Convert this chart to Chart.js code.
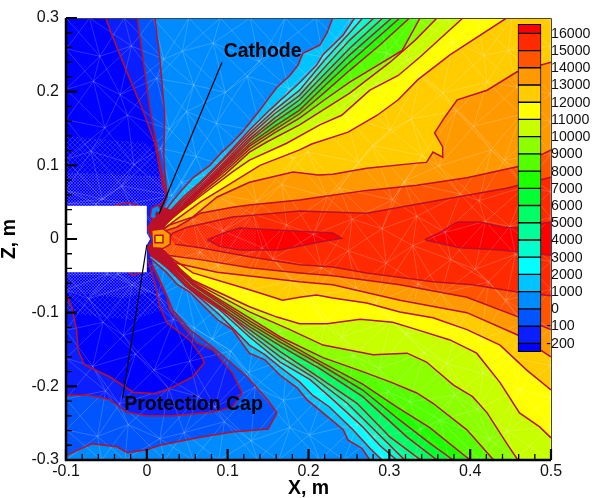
<!DOCTYPE html>
<html>
<head>
<meta charset="utf-8">
<style>
  html, body { margin: 0; padding: 0; background: #fff; }
  canvas { display: block; }
</style>
<script src="https://cdn.jsdelivr.net/npm/chart.js@4/dist/chart.umd.min.js"></script>
</head>
<body>
<canvas id="chart" width="592" height="498"></canvas>
<script>
// Colour bar, bottom to top
const barLabels = ['-200', '-100', '0', '1000', '2000', '3000', '4000', '5000', '6000', '7000', '8000', '9000', '10000', '11000', '12000', '13000', '14000', '15000', '16000'];
const bandColors = ['#0000ff', '#0a1eff', '#0055ff', '#008cff', '#00c4ff', '#00ffff', '#00ffcc', '#00ff99', '#00ff66', '#00ff33', '#1eff00', '#55ff00', '#8cff00', '#c8ff00', '#ffff00', '#ffcc00', '#ff9900', '#ff5500', '#ff2a00', '#ff0000'];

// Contours as [x, z]. up* run from the nozzle to the top/right edge
const up1000 = [[.014,.023],[.028,.046],[.043,.066],[.057,.083],[.078,.100],[.093,.118],[.105,.130],[.118,.145],[.140,.175],[.152,.193],[.161,.206],[.177,.222],[.187,.236],[.193,.252],[.214,.263],[.223,.280],[.230,.300]];
const up2000 = [[.016,.023],[.045,.057],[.066,.077],[.093,.107],[.127,.148],[.152,.175],[.189,.212],[.210,.236],[.218,.250],[.243,.277],[.257,.300]];
const up3000 = [[.016,.022],[.045,.054],[.066,.075],[.097,.110],[.127,.144],[.158,.175],[.189,.202],[.220,.243],[.251,.280],[.267,.300]];
const up4000 = [[.016,.020],[.045,.052],[.066,.072],[.097,.106],[.127,.140],[.158,.170],[.189,.195],[.220,.233],[.251,.270],[.281,.300]];
const up5000 = [[.016,.020],[.045,.049],[.066,.069],[.097,.103],[.127,.136],[.158,.164],[.189,.189],[.220,.224],[.251,.259],[.292,.300]];
const up6000 = [[.016,.019],[.045,.046],[.066,.068],[.097,.100],[.127,.133],[.158,.159],[.189,.182],[.220,.216],[.251,.250],[.303,.300]];
const up7000 = [[.016,.019],[.045,.045],[.066,.066],[.097,.098],[.127,.129],[.158,.153],[.189,.175],[.220,.208],[.251,.240],[.313,.300]];
const up8000 = [[.017,.018],[.045,.043],[.066,.065],[.097,.095],[.127,.126],[.158,.148],[.189,.170],[.220,.199],[.251,.229],[.288,.263],[.325,.300]];
const up9000 = [[.017,.018],[.045,.042],[.066,.064],[.097,.092],[.127,.122],[.158,.144],[.189,.164],[.220,.189],[.251,.213],[.316,.256],[.338,.300]];
const up10000 = [[.019,.016],[.045,.041],[.066,.061],[.097,.088],[.127,.118],[.149,.132],[.189,.155],[.251,.198],[.301,.240],[.332,.270],[.359,.300]];
const up11000 = [[.020,.016],[.028,.026],[.066,.058],[.106,.091],[.127,.107],[.173,.130],[.214,.155],[.241,.168],[.276,.202],[.311,.222],[.338,.247],[.391,.300]];
const up12000 = [[.022,.014],[.032,.023],[.066,.050],[.106,.077],[.140,.100],[.189,.121],[.204,.129],[.249,.145],[.285,.168],[.311,.189],[.335,.216],[.375,.250],[.445,.300]];
const up13000 = [[.012,.009],[.028,.019],[.057,.030],[.087,.057],[.127,.077],[.181,.091],[.212,.087],[.230,.088],[.272,.096],[.334,.103],[.346,.104],[.354,.118],[.366,.111],[.366,.125],[.356,.144],[.369,.166],[.384,.189],[.421,.202],[.458,.227],[.500,.240]];
const up14000 = [[.016,.009],[.037,.016],[.066,.035],[.106,.043],[.127,.046],[.189,.053],[.214,.057],[.272,.066],[.334,.073],[.396,.083],[.458,.098],[.500,.121]];
const up15000 = [[.028,.001],[.032,.008],[.050,.016],[.106,.030],[.189,.038],[.272,.035],[.313,.043],[.384,.057],[.445,.069],[.500,.084]];

// low* run from the nozzle to the bottom/right edge
const low1000 = [[.004,-.026],[.025,-.046],[.038,-.062],[.053,-.072],[.075,-.096],[.088,-.110],[.106,-.123],[.115,-.137],[.127,-.155],[.146,-.164],[.165,-.185],[.186,-.202],[.198,-.218],[.218,-.236],[.243,-.259],[.249,-.273],[.266,-.284],[.276,-.300]];
const low2000 = [[.006,-.019],[.046,-.061],[.090,-.103],[.127,-.144],[.146,-.157],[.165,-.174],[.189,-.194],[.205,-.212],[.226,-.228],[.255,-.259],[.276,-.284],[.291,-.300]];
const low3000 = [[.007,-.018],[.048,-.064],[.090,-.096],[.127,-.133],[.165,-.167],[.202,-.191],[.226,-.214],[.267,-.255],[.288,-.280],[.309,-.300]];
const low4000 = [[.009,-.016],[.051,-.066],[.090,-.092],[.127,-.128],[.165,-.160],[.205,-.187],[.248,-.223],[.285,-.263],[.319,-.300]];
const low5000 = [[.009,-.015],[.053,-.065],[.127,-.123],[.165,-.153],[.205,-.182],[.260,-.223],[.301,-.269],[.339,-.300]];
const low6000 = [[.010,-.015],[.054,-.064],[.127,-.119],[.165,-.145],[.214,-.176],[.267,-.214],[.322,-.269],[.359,-.300]];
const low7000 = [[.010,-.014],[.056,-.062],[.127,-.115],[.165,-.140],[.214,-.170],[.267,-.205],[.313,-.246],[.350,-.277],[.379,-.300]];
const low8000 = [[.011,-.014],[.057,-.061],[.127,-.111],[.165,-.136],[.214,-.166],[.267,-.197],[.309,-.228],[.350,-.256],[.400,-.300]];
const low9000 = [[.012,-.014],[.057,-.060],[.127,-.107],[.165,-.133],[.218,-.161],[.267,-.180],[.301,-.194],[.334,-.209],[.354,-.223],[.396,-.259],[.429,-.300]];
const low10000 = [[.012,-.014],[.057,-.058],[.127,-.099],[.177,-.123],[.218,-.144],[.280,-.157],[.322,-.155],[.346,-.167],[.379,-.198],[.403,-.214],[.421,-.236],[.445,-.277],[.459,-.300]];
const low11000 = [[.014,-.014],[.057,-.056],[.127,-.092],[.161,-.106],[.189,-.115],[.223,-.115],[.264,-.109],[.304,-.113],[.334,-.123],[.375,-.137],[.408,-.155],[.437,-.195],[.461,-.236],[.486,-.255],[.500,-.270]];
const low12000 = [[.016,-.015],[.057,-.046],[.127,-.069],[.168,-.083],[.189,-.079],[.210,-.076],[.230,-.080],[.272,-.087],[.313,-.099],[.354,-.107],[.396,-.123],[.437,-.144],[.470,-.178],[.500,-.205]];
const low13000 = [[.019,-.018],[.028,-.031],[.087,-.045],[.189,-.058],[.230,-.062],[.313,-.083],[.396,-.100],[.458,-.130],[.500,-.160]];
const low14000 = [[.025,-.022],[.066,-.028],[.127,-.039],[.189,-.046],[.230,-.050],[.313,-.062],[.396,-.079],[.453,-.103],[.500,-.123]];
const low15000 = [[.035,-.007],[.066,-.012],[.127,-.024],[.189,-.035],[.230,-.038],[.272,-.046],[.354,-.058],[.403,-.062],[.458,-.072],[.500,-.077]];

// Closed loops on the axis
const eye16000a = [[.075,-.001],[.097,.009],[.115,.015],[.165,.012],[.230,.008],[.241,.001],[.214,-.004],[.165,-.015],[.115,-.015],[.090,-.010],[.075,-.001]];
const eye16000b = [[.344,-.001],[.363,.009],[.384,.023],[.412,.023],[.441,.016],[.453,.015],[.500,.023],[.500,-.022],[.437,-.015],[.387,-.012],[.344,-.001]];

// Low side, left of the nozzle
const zeroTop = [[.010,.300],[.016,.247],[.022,.171],[.021,.111],[.025,.057],[.020,.046],[.014,.023],[.004,.005]];
const zeroLow = [[.006,-.033],[.020,-.065],[.032,-.096],[.053,-.123],[.082,-.147],[.124,-.187],[.149,-.218],[.161,-.236],[.150,-.258],[.106,-.262],[.066,-.269],[.016,-.280],[0,-.286],[-.024,-.290],[-.037,-.282],[-.068,-.278],[-.098,-.293],[-.100,-.294]];
const m100Top = [[-.012,.300],[-.005,.247],[.004,.175],[.014,.117],[.022,.071],[.025,.057],[.016,.033],[.006,.009]];
const m100Low = [[.007,-.038],[.025,-.079],[.028,-.096],[.062,-.141],[.082,-.151],[.106,-.182],[.118,-.209],[.106,-.228],[.082,-.235],[.032,-.240],[0,-.240],[-.025,-.235],[-.046,-.218],[-.071,-.212],[-.098,-.212],[-.100,-.212]];
const m200Top = [[-.051,.300],[-.042,.274],[-.027,.233],[-.005,.175],[.010,.130],[.020,.071],[.025,.057],[.016,.045]];
const m200Low = [[.001,-.028],[.010,-.060],[.016,-.092],[.025,-.114],[.053,-.137],[.068,-.160],[.071,-.168],[.057,-.187],[.032,-.201],[.012,-.210],[-.017,-.208],[-.046,-.187],[-.077,-.171],[-.085,-.151],[-.087,-.123],[-.093,-.092],[-.098,-.080],[-.100,-.076]];
const loopAboveBox = [[-.040,.045],[-.031,.048],[-.021,.049],[-.010,.045]];
const loopBelowBox = [[-.023,-.045],[-.017,-.049],[-.006,-.045]];

// Small loops right at the nozzle
const nozzleFanUp = [[0,.015],[.004,.023],[.022,.043],[.031,.039],[.036,.034],[.016,.009],[.004,.004]];
const nozzleFanLow = [[0,-.011],[.004,-.005],[.022,-.015],[.041,-.039],[.031,-.045],[.014,-.031],[.004,-.023]];
const nozzleOuter = [[.006,.012],[.020,.014],[.029,.007],[.029,-.007],[.020,-.013],[.007,-.012],[.006,.012]];
const nozzleInner = [[.010,.005],[.020,.005],[.020,-.005],[.010,-.005],[.010,.005]];
const capLoop = [[.004,.030],[.006,.042],[.014,.046],[.020,.035],[.012,.023],[.004,.030]];
const capSpot = [[.012,.037],[.017,.033],[.016,.028],[.011,.033],[.012,.037]];

const cathodeBox = [[-.1,.045],[0,.045],[0,.008],[.004,0],[0,-.008],[0,-.045],[-.1,-.045],[-.1,.045]];
const cathodeLeader = [[.093,.240],[.015,.034]];
const capLeader = [[-.030,-.216],[0,-.008]];

// Fine mesh shows up as stippled patches next to the cathode and along the axis
const fineUpperDense = [[-.1,.090],[-.04,.088],[.020,.085],[.027,.055],[.018,.045],[-.1,.045]];
const fineUpperSparse = [[-.1,.140],[-.05,.135],[0,.130],[.018,.100],[.020,.085],[-.04,.088],[-.1,.090]];
const fineLowerDense = [[-.1,-.045],[.006,-.045],[.014,-.070],[-.03,-.080],[-.1,-.072]];
const fineLowerSparse = [[-.1,-.072],[-.03,-.080],[.014,-.070],[.025,-.095],[-.02,-.110],[-.1,-.100]];
const fineAxis = [[.020,.020],[.100,.060],[.135,.020],[.135,-.020],[.100,-.060],[.020,-.020]];

// Triangulation nodes, one row of x and one row of z per mesh row
const meshX = [
  [-.100,-.071,-.028,.008,.052,.091,.128,.171,.209,.252,.288,.331,.372,.408,.452,.500],
  [-.100,-.058,-.019,.021,.044,.082,.139,.162,.218,.243,.297,.322,.379,.417,.447,.500],
  [-.100,-.066,-.033,.012,.058,.097,.124,.176,.204,.258,.284,.338,.366,.421,.458,.500],
  [-.100,-.052,-.024,.028,.049,.086,.141,.158,.213,.247,.301,.327,.383,.404,.463,.500],
  [-.100,-.069,-.016,.017,.061,.102,.119,.181,.199,.262,.279,.341,.361,.426,.442,.500],
  [-.100,-.055,-.031,.031,.043,.079,.136,.167,.223,.238,.304,.318,.388,.411,.468,.500],
  [-.100,-.063,-.021,.011,.056,.094,.131,.173,.206,.254,.291,.334,.369,.419,.449,.500],
  [-.100,-.049,-.036,.024,.066,.088,.143,.156,.216,.249,.296,.329,.376,.406,.456,.500],
  [-.100,-.072,-.018,.014,.047,.099,.122,.179,.202,.259,.283,.336,.364,.423,.444,.500],
  [-.100,-.054,-.029,.033,.059,.081,.138,.164,.221,.241,.302,.321,.386,.413,.466,.500],
  [-.100,-.067,-.014,.009,.053,.104,.126,.174,.207,.256,.287,.343,.371,.416,.451,.500],
  [-.100,-.051,-.034,.027,.064,.084,.134,.169,.219,.246,.299,.325,.381,.409,.461,.500],
  [-.100,-.061,-.023,.016,.046,.096,.129,.177,.201,.261,.281,.339,.363,.424,.446,.500],
  [-.100,-.056,-.027,.022,.057,.089,.137,.163,.214,.244,.294,.331,.374,.412,.455,.500]
];
const meshZ = [
  [.300,.300,.300,.300,.300,.300,.300,.300,.300,.300,.300,.300,.300,.300,.300,.300],
  [.258,.248,.262,.244,.255,.266,.241,.259,.247,.263,.252,.243,.268,.249,.256,.262],
  [.203,.214,.196,.218,.209,.199,.221,.204,.216,.193,.211,.222,.198,.213,.206,.197],
  [.162,.151,.168,.149,.173,.157,.146,.171,.155,.166,.148,.163,.174,.153,.169,.159],
  [.108,.119,.101,.123,.112,.097,.126,.109,.118,.104,.127,.113,.099,.121,.107,.116],
  [.066,.054,.072,.059,.077,.063,.051,.074,.057,.069,.053,.078,.061,.052,.071,.064],
  [.048,.048,.048,.018,.028,.011,.034,.019,.006,.027,.014,.031,.009,.024,.017,.029],
  [-.048,-.048,-.048,-.031,-.018,-.036,-.012,-.027,-.039,-.016,-.033,-.009,-.028,-.041,-.021,-.031],
  [-.069,-.081,-.062,-.077,-.059,-.084,-.071,-.056,-.079,-.066,-.087,-.061,-.074,-.058,-.083,-.068],
  [-.124,-.113,-.131,-.109,-.121,-.136,-.107,-.126,-.116,-.133,-.111,-.129,-.119,-.137,-.114,-.122],
  [-.162,-.173,-.156,-.178,-.166,-.152,-.181,-.163,-.171,-.158,-.176,-.154,-.169,-.183,-.161,-.172],
  [-.217,-.206,-.224,-.203,-.214,-.228,-.201,-.219,-.209,-.226,-.207,-.221,-.212,-.231,-.204,-.216],
  [-.259,-.268,-.252,-.271,-.263,-.248,-.274,-.256,-.266,-.251,-.269,-.258,-.246,-.272,-.261,-.254],
  [-.300,-.300,-.300,-.300,-.300,-.300,-.300,-.300,-.300,-.300,-.300,-.300,-.300,-.300,-.300,-.300]
];

const annotations = [
  { text: 'Cathode', x: .095, z: .254 },
  { text: 'Protection Cap', x: -.028, z: -.225 }
];

const wedges = [
  [up1000, low1000], [up2000, low2000], [up3000, low3000], [up4000, low4000],
  [up5000, low5000], [up6000, low6000], [up7000, low7000], [up8000, low8000],
  [up9000, low9000], [up10000, low10000], [up11000, low11000], [up12000, low12000],
  [up13000, low13000], [up14000, low14000], [up15000, low15000]
];

const FONT = '"Liberation Sans", Arial, sans-serif';
const LINE_RED = '#bc1028';

const toPoints = (pts) => pts.map(p => ({ x: p[0], y: p[1] }));

function fillSet(pts, color) {
  return { type: 'scatter', data: toPoints(pts), showLine: true, pointRadius: 0, borderWidth: 0, borderColor: color, backgroundColor: color, fill: 'shape', tension: 0 };
}
function lineSet(pts, color, width) {
  return { type: 'scatter', data: toPoints(pts), showLine: true, pointRadius: 0, borderWidth: width || 1.5, borderColor: color || LINE_RED, fill: false, tension: 0 };
}

// Small tile of crossed lines, used for the stippled fine mesh
function stipple(size, alpha) {
  const tile = document.createElement('canvas');
  tile.width = tile.height = size;
  const c = tile.getContext('2d');
  c.strokeStyle = 'rgba(255,255,255,' + alpha + ')';
  c.lineWidth = 1;
  c.beginPath();
  c.moveTo(0, 0); c.lineTo(size, size);
  c.moveTo(size, 0); c.lineTo(0, size);
  c.stroke();
  return c.createPattern(tile, 'repeat');
}

// Region above a level: out along the upper contour, round the corners, back along the lower one
function wedgeRegion(up, low) {
  const pts = up.slice();
  if (up[up.length - 1][1] === .3) pts.push([.5, .3]);
  if (low[low.length - 1][1] === -.3) pts.push([.5, -.3]);
  return pts.concat(low.slice().reverse());
}

function meshSegments() {
  const seg = [];
  const add = (a, b) => { seg.push([meshX[a[0]][a[1]], meshZ[a[0]][a[1]]], [meshX[b[0]][b[1]], meshZ[b[0]][b[1]]], [null, null]); };
  meshX.forEach((row, i) => {
    row.forEach((_, j) => {
      if (j + 1 < row.length) add([i, j], [i, j + 1]);
      if (i + 1 < meshX.length) {
        add([i, j], [i + 1, j]);
        if (j + 1 < row.length) {
          add([i, j], [i + 1, j + 1]);
          add([i, j + 1], [i + 1, j]);
        }
      }
    });
  });
  return seg;
}

// Bottom layer first, reversed below because Chart.js paints dataset 0 last
const layers = [];
layers.push(fillSet([[-.1, .3], [.5, .3], [.5, -.3], [-.1, -.3]], bandColors[3]));
layers.push(fillSet(zeroTop.concat(zeroLow, [[-.1, .3]]), bandColors[2]));
layers.push(fillSet(m100Top.concat(m100Low, [[-.1, .3]]), bandColors[1]));
layers.push(fillSet(m200Top.concat([[-.1, .045], [-.1, .3]]), bandColors[0]));
layers.push(fillSet(m200Low.concat([[-.1, -.04], [0, -.04]]), bandColors[0]));
wedges.forEach((w, i) => layers.push(fillSet(wedgeRegion(w[0], w[1]), bandColors[i + 4])));
layers.push(fillSet(eye16000a, bandColors[19]));
layers.push(fillSet(eye16000b, bandColors[19]));
layers.push(fillSet(capLoop, bandColors[3]));
layers.push(fillSet(capSpot, bandColors[1]));
layers.push(fillSet(fineUpperDense, stipple(3, .2)));
layers.push(fillSet(fineUpperSparse, stipple(5, .14)));
layers.push(fillSet(fineLowerDense, stipple(3, .2)));
layers.push(fillSet(fineLowerSparse, stipple(5, .14)));
layers.push(fillSet(fineAxis, stipple(3, .08)));
layers.push(lineSet(meshSegments(), 'rgba(255,255,255,0.18)', 1));
[zeroTop, zeroLow, m100Top, m100Low, m200Top, m200Low, loopAboveBox, loopBelowBox, eye16000a, eye16000b, capLoop, capSpot]
  .forEach(c => layers.push(lineSet(c)));
wedges.forEach(w => { layers.push(lineSet(w[0])); layers.push(lineSet(w[1])); });
layers.push(fillSet(nozzleFanUp, LINE_RED));
layers.push(fillSet(nozzleFanLow, LINE_RED));
layers.push(fillSet(nozzleOuter, bandColors[16]));
layers.push(fillSet(nozzleInner, bandColors[15]));
layers.push(lineSet(nozzleOuter));
layers.push(lineSet(nozzleInner));
layers.push(fillSet(cathodeBox, '#ffffff'));
layers.push(lineSet(cathodeLeader, '#000', 1.2));
layers.push(lineSet(capLeader, '#000', 1.2));
layers.push({
  type: 'bar',
  xAxisID: 'x',
  yAxisID: 'yBar',
  data: bandColors.map((_, i) => ({ x: .4734, y: [i === 0 ? -.49 : i - 1, i === 19 ? 18.52 : i] })),
  backgroundColor: bandColors,
  borderColor: '#000',
  borderWidth: 1,
  borderSkipped: false,
  barThickness: 23
});

// Frame, inward ticks, colour bar labels and the two callouts
const overlayPlugin = {
  id: 'overlay',
  afterDatasetsDraw(chart) {
    const { ctx, chartArea: a, scales } = chart;
    ctx.save();
    ctx.strokeStyle = '#444';
    ctx.lineWidth = 1;
    ctx.beginPath();
    ctx.moveTo(a.left, a.top + .5); ctx.lineTo(a.right + .5, a.top + .5); ctx.lineTo(a.right + .5, a.bottom);
    ctx.stroke();
    ctx.strokeStyle = '#000';
    for (let i = 0; i <= 30; i++) {
      const isMajor = i % 5 === 0;
      const len = isMajor ? 11 : 6;
      ctx.lineWidth = isMajor ? 2.2 : 1.3;
      const px = scales.x.getPixelForValue(-.1 + i * .02);
      const py = scales.y.getPixelForValue(-.3 + i * .02);
      ctx.beginPath();
      ctx.moveTo(px, a.bottom); ctx.lineTo(px, a.bottom - len);
      ctx.moveTo(a.left, py); ctx.lineTo(a.left + len, py);
      ctx.stroke();
    }
    ctx.lineWidth = 2.5;
    ctx.beginPath();
    ctx.moveTo(a.left, a.top); ctx.lineTo(a.left, a.bottom); ctx.lineTo(a.right, a.bottom);
    ctx.stroke();

    ctx.fillStyle = '#111';
    ctx.textBaseline = 'middle';
    ctx.font = '14.2px ' + FONT;
    barLabels.forEach((label, i) => {
      const y = scales.yBar.getPixelForValue(i) + .5;
      const shift = label[0] === '-' ? ctx.measureText('-').width : 0;
      ctx.fillText(label, a.right - shift, y);
    });
    ctx.fillStyle = '#000';
    ctx.font = 'bold 19.5px ' + FONT;
    annotations.forEach(n => ctx.fillText(n.text, scales.x.getPixelForValue(n.x), scales.y.getPixelForValue(n.z)));
    ctx.restore();
  }
};

const tickLabel = (v) => (Math.abs(v) < 1e-9 ? '0' : String(+v.toFixed(1)));

new Chart(document.getElementById('chart'), {
  type: 'scatter',
  data: { datasets: layers.reverse() },
  plugins: [overlayPlugin],
  options: {
    responsive: false,
    animation: false,
    events: [],
    layout: { padding: { top: 18, right: 41, left: 0, bottom: 0 } },
    plugins: { legend: { display: false }, tooltip: { enabled: false }, title: { display: false } },
    scales: {
      x: {
        type: 'linear', min: -.1, max: .5, offset: false,
        grid: { display: false, drawTicks: false }, border: { display: false },
        ticks: { stepSize: .1, color: '#111', padding: 2, maxRotation: 0, callback: tickLabel, font: { family: FONT, size: 16 } },
        title: { display: true, text: 'X, m', color: '#000', padding: 0, font: { family: FONT, size: 19.5, weight: 'bold', lineHeight: 1 } },
        afterFit(scale) { scale.height = 38; }
      },
      y: {
        type: 'linear', min: -.3, max: .3,
        grid: { display: false, drawTicks: false }, border: { display: false },
        ticks: { stepSize: .1, color: '#111', padding: 7, callback: tickLabel, font: { family: FONT, size: 16 } },
        title: { display: true, text: 'Z, m', color: '#000', padding: { top: 0, bottom: 11 }, font: { family: FONT, size: 19.5, weight: 'bold', lineHeight: 1 } },
        afterFit(scale) { scale.width = 66; }
      },
      yBar: { type: 'linear', display: false, min: -6.777, max: 18.89 }
    }
  }
});
</script>
</body>
</html>
